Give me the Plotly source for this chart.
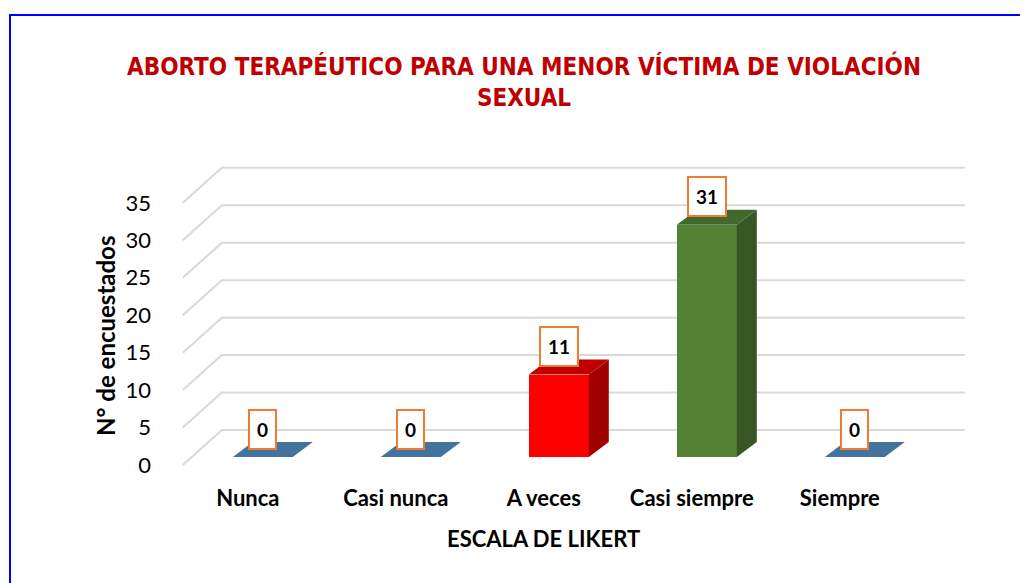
import numpy as np
import plotly.graph_objects as go

# ---------------- data ----------------
categories = ["Nunca", "Casi nunca", "A veces", "Casi siempre", "Siempre"]
values = [0, 0, 11, 31, 0]
y_ticks = [0, 5, 10, 15, 20, 25, 30, 35]
title_text = "ABORTO TERAPÉUTICO PARA UNA MENOR VÍCTIMA DE VIOLACIÓN<br>SEXUAL"
x_title = "ESCALA DE LIKERT"
y_title = "N° de encuestados"

front_colors = ["#4472C4", "#4472C4", "#FF0000", "#548235", "#4472C4"]
top_colors = ["#44749D", "#44749D", "#C00000", "#43682B", "#44749D"]
side_colors = ["#35597A", "#35597A", "#A00000", "#375623", "#35597A"]

# ---------------- geometry (pseudo-3D) ----------------
OFF = 8                       # page body margin of the browser
W, H = 1028 - OFF, 583 - OFF
PX_X = 148.0                  # px per category unit
PX_Y = 7.49                   # px per value unit
L, R, T, B = 174, 966, 157, 468   # plot area (screen pixels)
x_min = -0.6
x_max = x_min + (R - L) / PX_X
y_max = (457 - T) / PX_Y
y_min = (457 - B) / PX_Y

bar_half = 30 / PX_X
depth_x = 20 / PX_X
depth_y = 15 / PX_Y

wall_front_x = (183 - 263) / PX_X
wall_back_x = (222 - 263) / PX_X
wall_right_x = (965 - 263) / PX_X
wall_front_dy = (457 - 465) / PX_Y
wall_back_dy = (457 - 430) / PX_Y

xs = np.arange(len(categories), dtype=float)

fig = go.Figure()

# front faces
fig.add_trace(go.Bar(
    x=xs, y=values, width=2 * bar_half,
    marker=dict(color=front_colors, line=dict(width=0)),
    hoverinfo="skip", showlegend=False,
))

# side + top faces
for x, v, tc, sc in zip(xs, values, top_colors, side_colors):
    if v > 0:
        fig.add_trace(go.Scatter(
            x=[x + bar_half, x + bar_half + depth_x, x + bar_half + depth_x, x + bar_half, x + bar_half],
            y=[0, depth_y, v + depth_y, v, 0],
            fill="toself", fillcolor=sc, mode="lines", line=dict(width=0, color=sc),
            hoverinfo="skip", showlegend=False,
        ))
    fig.add_trace(go.Scatter(
        x=[x - bar_half, x + bar_half, x + bar_half + depth_x, x - bar_half + depth_x, x - bar_half],
        y=[v, v, v + depth_y, v + depth_y, v],
        fill="toself", fillcolor=tc, mode="lines", line=dict(width=0, color=tc),
        hoverinfo="skip", showlegend=False,
    ))

# back wall gridlines + side wall diagonals (drawn below traces)
shapes = []
for v in y_ticks:
    path = (f"M {wall_front_x},{v + wall_front_dy} "
            f"L {wall_back_x},{v + wall_back_dy} "
            f"L {wall_right_x},{v + wall_back_dy}")
    shapes.append(dict(type="path", path=path, xref="x", yref="y", layer="below",
                       line=dict(color="#D9D9D9", width=2)))

# outer blue frame (screen px -> paper)
def px_to_paper_x(px):
    return (px - L) / (R - L)

def px_to_paper_y(py):
    return (B - py) / (B - T)

shapes.append(dict(type="rect", xref="paper", yref="paper",
                   x0=px_to_paper_x(10), x1=px_to_paper_x(1060),
                   y0=px_to_paper_y(620), y1=px_to_paper_y(15),
                   line=dict(color="#0000FF", width=2), layer="above"))

font_family = "Lato, Carlito, sans-serif"
annotations = []
for x, v in zip(xs, values):
    annotations.append(dict(
        x=x, y=v, xref="x", yref="y", yshift=28, showarrow=False,
        text=f"<b>{v}</b>", font=dict(family=font_family, size=19, color="#000000"),
        bgcolor="#FFFFFF", bordercolor="#ED7D31", borderwidth=2, borderpad=7,
    ))

# axis titles
annotations.append(dict(
    text=f"<b>{x_title}</b>", xref="paper", yref="paper",
    x=px_to_paper_x(543), y=px_to_paper_y(538), showarrow=False,
    xanchor="center", yanchor="middle",
    font=dict(family=font_family, size=22, color="#000000"),
))
annotations.append(dict(
    text=f"<b>{y_title}</b>", xref="paper", yref="paper",
    x=px_to_paper_x(105), y=px_to_paper_y(336), showarrow=False, textangle=-90,
    xanchor="center", yanchor="middle",
    font=dict(family=font_family, size=24, color="#000000"),
))

fig.update_layout(
    width=W, height=H,
    margin=dict(l=L - OFF, r=W - (R - OFF), t=T - OFF, b=H - (B - OFF), autoexpand=False),
    paper_bgcolor="#FFFFFF", plot_bgcolor="rgba(0,0,0,0)",
    showlegend=False,
    title=dict(
        text=f"<b>{title_text}</b>",
        x=(524 - OFF) / W, xref="container", xanchor="center",
        y=1 - (74.5 - OFF) / H, yref="container", yanchor="middle",
        font=dict(family="Liberation Sans Narrow, DejaVu Sans Condensed, Arial Narrow, sans-serif",
                  size=24, color="#C00000"),
    ),
    xaxis=dict(
        range=[x_min, x_max], tickvals=xs, ticktext=categories,
        showgrid=False, zeroline=False, showline=False, ticks="",
        ticklabelshift=-15, ticklabelstandoff=15,
        tickfont=dict(family=font_family, size=22, color="#000000", weight="bold"),
        fixedrange=True,
    ),
    yaxis=dict(
        range=[y_min, y_max], tickvals=y_ticks,
        showgrid=False, zeroline=False, showline=False, ticks="",
        ticklabelshift=8, ticklabelstandoff=22,
        tickfont=dict(family=font_family, size=22, color="#000000"),
        fixedrange=True,
    ),
    shapes=shapes,
    annotations=annotations,
    bargap=0,
)

fig.write_html("out.html")
